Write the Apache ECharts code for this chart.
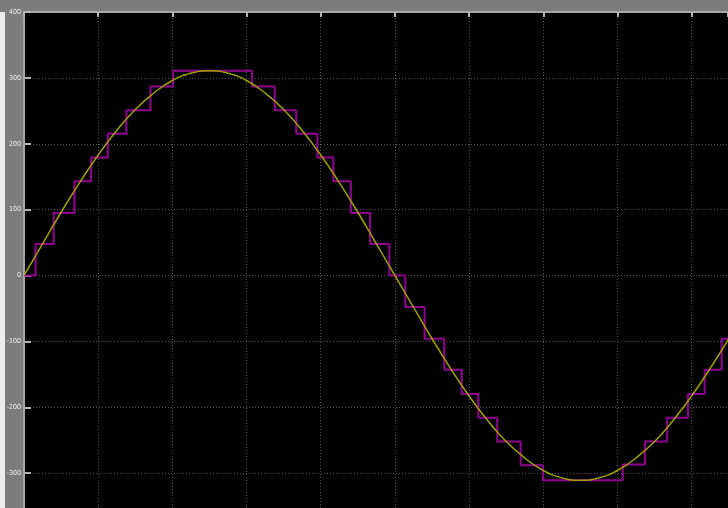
<!DOCTYPE html>
<html>
<head>
<meta charset="utf-8">
<script src="https://cdn.jsdelivr.net/npm/echarts@6/dist/echarts.min.js"></script>
<style>
  html, body { margin: 0; padding: 0; background: #7c7c7c; overflow: hidden; }
  #strip { position: absolute; left: 0; top: 12px; width: 5px; height: 496px; background: #ececec; }
  #chart { position: absolute; left: 0; top: 0; width: 728px; height: 508px; }
</style>
</head>
<body>
<div id="strip"></div>
<div id="chart"></div>
<script>
// time in ms, voltage in V
var yTicks = [-300, -200, -100, 0, 100, 200, 300, 400];

// sine curve (every 0.5 ms)
var sineTimes = [0, 0.5, 1, 1.5, 2, 2.5, 3, 3.5, 4, 4.5, 5, 5.5, 6, 6.5, 7, 7.5, 8, 8.5, 9, 9.5,
  10, 10.5, 11, 11.5, 12, 12.5, 13, 13.5, 14, 14.5, 15, 15.5, 16, 16.5, 17, 17.5, 18, 18.5, 19];
var sineValues = [0, 48, 96, 141, 183, 220, 252, 277, 296, 307, 311, 307, 296, 277, 252, 220, 183, 141, 96, 48,
  0, -48, -96, -141, -183, -220, -252, -277, -296, -307, -311, -307, -296, -277, -252, -220, -183, -141, -96];

// quantized (staircase) signal: time each level starts, and the level
var stepTimes = [0, 0.31, 0.80, 1.36, 1.81, 2.26, 2.76, 3.41, 4.02, 6.15, 6.76, 7.34, 7.91, 8.34, 8.81, 9.33,
  9.85, 10.28, 10.80, 11.33, 11.80, 12.25, 12.76, 13.39, 13.99, 16.14, 16.74, 17.34, 17.90, 18.35, 18.81, 18.98];
var stepLevels = [0, 48, 95, 143, 179, 215, 251, 287, 311, 287, 251, 215, 179, 143, 95, 48,
  0, -48, -96, -143, -180, -216, -252, -288, -311, -287, -252, -216, -180, -143, -96, -96];

function pairs(xs, ys) {
  return xs.map(function (x, i) { return [x, ys[i]]; });
}

var gridLine = { lineStyle: { color: '#545454', width: 1, type: [1, 2] } };

var chart = echarts.init(document.getElementById('chart'));
chart.setOption({
  backgroundColor: 'transparent',
  animation: false,
  grid: {
    left: 24, top: 12, width: 704, height: 527,
    outerBoundsMode: 'none', containLabel: false,
    show: true, backgroundColor: '#000', borderWidth: 0
  },
  xAxis: {
    type: 'value', position: 'top', min: 0, max: 18.98, interval: 2,
    axisLine: { show: true, onZero: false, lineStyle: { color: '#a6a6a6', width: 2 } },
    axisTick: { show: true, inside: true, length: 5, lineStyle: { color: '#b4b4b4', width: 2 } },
    axisLabel: { show: false },
    splitLine: gridLine
  },
  yAxis: {
    type: 'value', min: -400, max: 400, interval: 100,
    axisLine: { show: true, onZero: false, lineStyle: { color: '#a6a6a6', width: 2 } },
    axisTick: { show: true, inside: true, length: 7, lineStyle: { color: '#b4b4b4', width: 2 } },
    axisLabel: {
      color: '#efefef', fontSize: 7, fontFamily: 'Liberation Sans Narrow, DejaVu Sans Condensed, sans-serif', margin: 3,
      formatter: function (v) { return yTicks.indexOf(v) >= 0 ? String(v) : ''; }
    },
    splitLine: gridLine
  },
  series: [
    {
      name: 'quantized', type: 'line', step: 'end', showSymbol: false,
      lineStyle: { color: '#920092', width: 2 },
      data: pairs(stepTimes, stepLevels)
    },
    {
      name: 'sine', type: 'line', smooth: true, showSymbol: false,
      lineStyle: { color: '#a09e00', width: 1.5 },
      data: pairs(sineTimes, sineValues)
    }
  ]
});
</script>
</body>
</html>
